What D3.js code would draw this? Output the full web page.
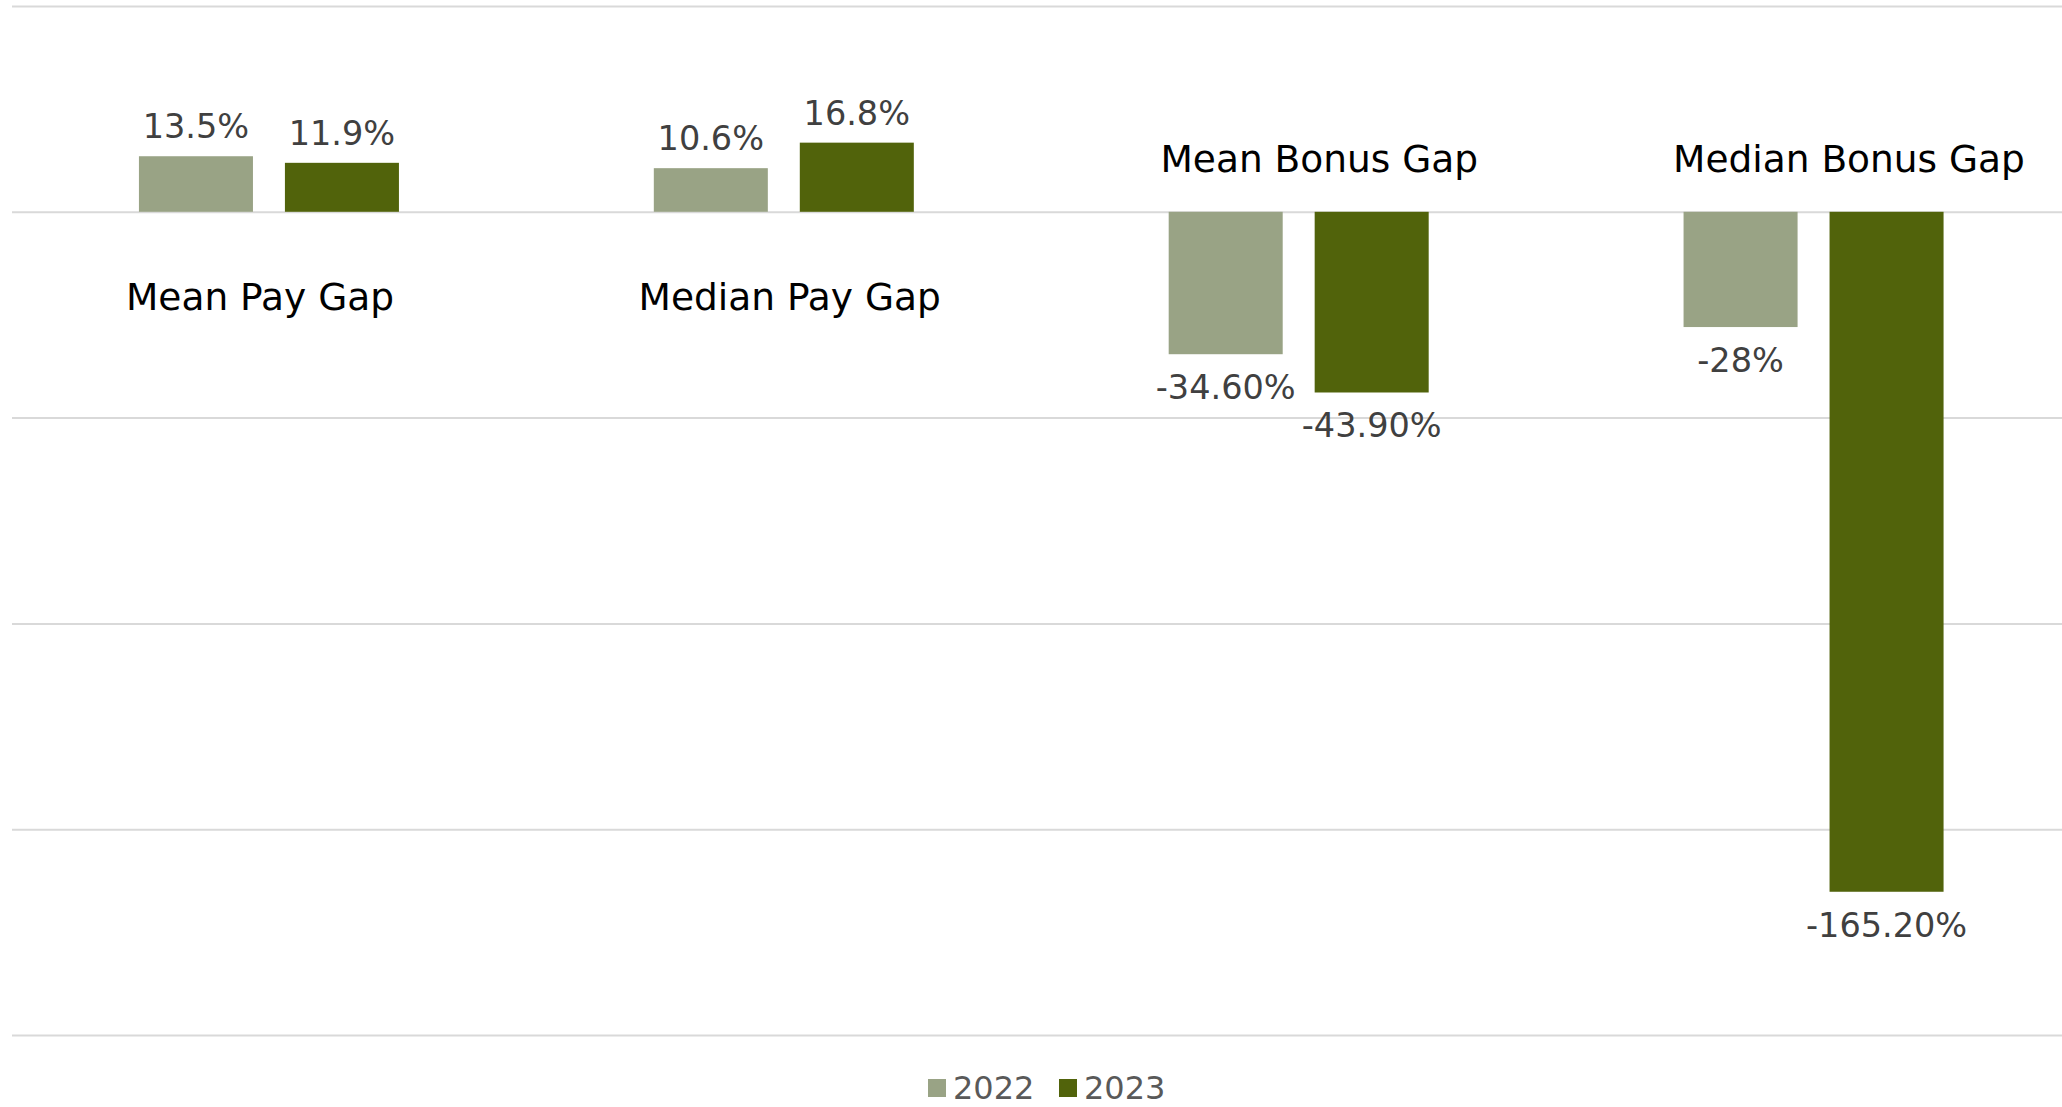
<!DOCTYPE html>
<html>
<head>
<meta charset="utf-8">
<script src="https://cdn.jsdelivr.net/npm/d3@7"></script>
<style>
  html, body { margin: 0; padding: 0; background: #ffffff; }
  svg { display: block; }
</style>
</head>
<body>
<svg id="chart" width="2062" height="1107"></svg>
<script>
const categories = ["Mean Pay Gap", "Median Pay Gap", "Mean Bonus Gap", "Median Bonus Gap"];
const years = ["2022", "2023"];
const values2022 = [13.5, 10.6, -34.6, -28];
const values2023 = [11.9, 16.8, -43.9, -165.2];
const labels2022 = ["13.5%", "10.6%", "-34.60%", "-28%"];
const labels2023 = ["11.9%", "16.8%", "-43.90%", "-165.20%"];
const yTicks = [50, 0, -50, -100, -150, -200];
const colors = ["#99a385", "#51630b"];

(function () {
const svg = d3.select("#chart");
const plotL = 12, plotR = 2062, plotT = 6, plotB = 1035;

const x0 = d3.scaleBand().domain(categories).range([11.5, 2071]).padding(0);
const xLabel = d3.scalePoint().domain(categories).range([260, 1849]);
const groupW = 260;
const x1 = d3.scaleBand().domain(years).range([0, groupW]).paddingInner(0.219).paddingOuter(0);
const y = d3.scaleLinear().domain([50, -200]).range([plotT, plotB]);

const series = [
  { year: years[0], values: values2022, labels: labels2022, color: colors[0] },
  { year: years[1], values: values2023, labels: labels2023, color: colors[1] }
];

// gridlines
const yAxis = d3.axisLeft(y).tickValues(yTicks).tickSize(-(plotR - plotL)).tickFormat("");
const gAxis = svg.append("g").attr("transform", `translate(${plotL},0)`).call(yAxis);
gAxis.select(".domain").remove();
gAxis.selectAll(".tick line").attr("stroke", "#d9d9d9").attr("stroke-width", 2);

const font = "'DejaVu Sans', Verdana, sans-serif";

const rows = [];
series.forEach(s => {
  categories.forEach((c, i) => rows.push({ cat: c, year: s.year, v: s.values[i], label: s.labels[i], color: s.color }));
});

const gx = c => x0(c) + x0.bandwidth() / 2 - groupW / 2;

// bars
svg.append("g").selectAll("rect").data(rows).join("rect")
  .attr("x", d => gx(d.cat) + x1(d.year))
  .attr("width", x1.bandwidth())
  .attr("y", d => y(Math.max(0, d.v)))
  .attr("height", d => Math.abs(y(d.v) - y(0)))
  .attr("fill", d => d.color);

// data labels
svg.append("g").selectAll("text").data(rows).join("text")
  .attr("x", d => gx(d.cat) + x1(d.year) + x1.bandwidth() / 2)
  .attr("y", d => d.v >= 0 ? y(d.v) - 18 : y(d.v) + 45)
  .attr("text-anchor", "middle")
  .attr("font-family", font)
  .attr("font-size", 33.5)
  .attr("fill", "#404040")
  .text(d => d.label);

// category labels
const catPos = categories.map((c, i) => ({ c, positive: values2022[i] >= 0 }));
svg.append("g").selectAll("text").data(catPos).join("text")
  .attr("x", d => xLabel(d.c))
  .attr("y", d => d.positive ? y(0) + 98 : y(0) - 40)
  .attr("text-anchor", "middle")
  .attr("font-family", font)
  .attr("font-size", 37.5)
  .attr("fill", "#000000")
  .text(d => d.c);

// legend
const legend = svg.append("g").attr("transform", "translate(928,1088)");
const legItems = [{ t: years[0], c: colors[0], x: 0 }, { t: years[1], c: colors[1], x: 131 }];
const li = legend.selectAll("g").data(legItems).join("g").attr("transform", d => `translate(${d.x},0)`);
li.append("rect").attr("x", 0).attr("y", -9).attr("width", 18).attr("height", 18).attr("fill", d => d.c);
li.append("text").attr("x", 25).attr("y", 11).attr("font-family", font).attr("font-size", 32)
  .attr("fill", "#595959").text(d => d.t);
})();
</script>
</body>
</html>
